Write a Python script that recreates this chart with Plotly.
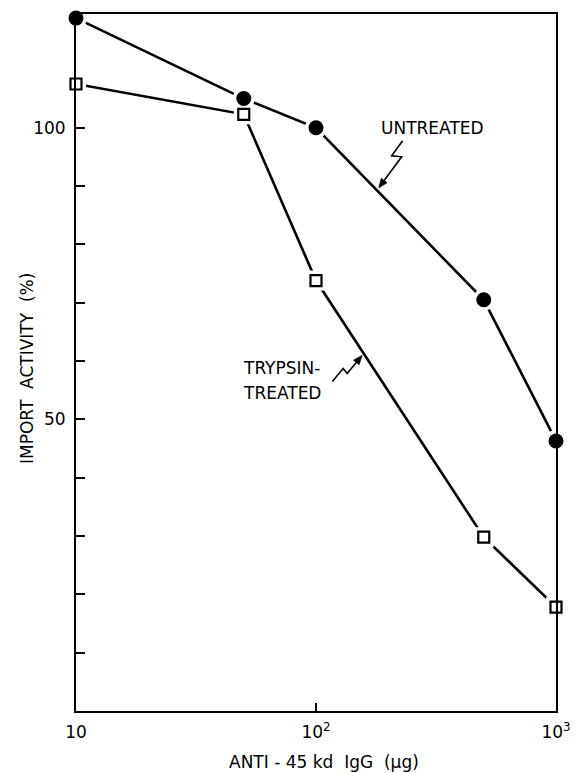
import math
import plotly.graph_objects as go

dose_ug = [10, 50, 100, 500, 1000]
untreated = [118.8, 105.0, 100.0, 70.5, 46.3]
trypsin_treated = [107.5, 102.3, 73.8, 29.8, 17.8]

y_tickvals = [50, 100]
y_ticktext = ["50", "100"]
y_minor_tickvals = [10, 20, 30, 40, 60, 70, 80, 90]
x_tickvals = [10, 100, 1000]
x_ticktext = ["10", "10<sup>2</sup>", "10<sup>3</sup>"]
x_title = "ANTI - 45 kd  IgG  (μg)"
y_title = "IMPORT  ACTIVITY  (%)"

W, H = 583, 773
L, R, T, B = 76, 561, 13, 711
FONT = "DejaVu Sans"


def px(x, y):
    return (x - L) / (R - L), (B - y) / (B - T)


fig = go.Figure()

for ys in (untreated, trypsin_treated):
    fig.add_trace(go.Scatter(
        x=dose_ug, y=ys, mode="lines",
        line=dict(color="black", width=2.6),
        hoverinfo="skip", showlegend=False, cliponaxis=False))
# white halos -> small gap between line and marker
for ys, sym, sz in [(untreated, "circle", 22), (trypsin_treated, "square", 20)]:
    fig.add_trace(go.Scatter(
        x=dose_ug, y=ys, mode="markers",
        marker=dict(symbol=sym, size=sz, color="white", line=dict(width=0)),
        hoverinfo="skip", showlegend=False, cliponaxis=False))

fig.add_trace(go.Scatter(
    x=dose_ug, y=untreated, mode="markers", name="UNTREATED",
    marker=dict(symbol="circle", size=15, color="black", line=dict(width=0)),
    showlegend=False, cliponaxis=False))
fig.add_trace(go.Scatter(
    x=dose_ug, y=trypsin_treated, mode="markers", name="TRYPSIN-TREATED",
    marker=dict(symbol="square", size=11, color="white",
                line=dict(color="black", width=2.2)),
    showlegend=False, cliponaxis=False))


def path(points, close=False):
    s = ""
    for i, (x, y) in enumerate(points):
        u, v = px(x, y)
        s += ("M" if i == 0 else "L") + f"{u:.4f},{v:.4f} "
    return s + ("Z" if close else "")


def zigzag_arrow(points, head_len=9.0, head_half=3.6):
    (x0, y0), (x1, y1) = points[-2], points[-1]
    d = math.hypot(x1 - x0, y1 - y0)
    ux, uy = (x1 - x0) / d, (y1 - y0) / d
    bx, by = x1 - head_len * ux, y1 - head_len * uy
    nx, ny = -uy, ux
    fig.add_shape(type="path", xref="paper", yref="paper",
                  path=path(points[:-1] + [(bx, by)]),
                  line=dict(color="black", width=1.6))
    fig.add_shape(type="path", xref="paper", yref="paper",
                  path=path([(x1, y1),
                             (bx + head_half * nx, by + head_half * ny),
                             (bx - head_half * nx, by - head_half * ny)],
                            close=True),
                  line=dict(color="black", width=0.8), fillcolor="black")


zigzag_arrow([(406, 140), (395, 155), (405, 156), (382, 187)])
zigzag_arrow([(335, 381), (346, 368), (350, 373), (365, 355)])

lab_font = dict(family=FONT, size=17, color="black")


def label(x, y, text, xanchor="center", angle=0):
    u, v = px(x, y)
    fig.add_annotation(x=u, y=v, xref="paper", yref="paper", text=text,
                       xanchor=xanchor, yanchor="middle", textangle=angle,
                       showarrow=False, font=lab_font)


label(436, 127, "UNTREATED")
label(243, 368, "TRYPSIN-", xanchor="left")
label(243, 393, "TREATED", xanchor="left")
label(327, 762, x_title)
label(27, 368, y_title, angle=-90)

fig.update_layout(
    width=W, height=H,
    margin=dict(l=L, r=W - R, t=T, b=H - B),
    paper_bgcolor="white", plot_bgcolor="white",
    font=dict(family=FONT, size=17, color="black"),
    xaxis=dict(
        type="log", range=[1, 3],
        tickvals=x_tickvals, ticktext=x_ticktext,
        ticks="inside", ticklen=8, tickwidth=1.6, tickcolor="black",
        ticklabelstandoff=5,
        showgrid=False, zeroline=False,
        showline=True, linecolor="black", linewidth=2, mirror=True,
        tickfont=dict(family=FONT, size=17),
    ),
    yaxis=dict(
        range=[0, 119.5],
        tickvals=y_tickvals, ticktext=y_ticktext,
        ticks="inside", ticklen=9, tickwidth=1.6, tickcolor="black",
        ticklabelstandoff=5,
        minor=dict(tickvals=y_minor_tickvals, ticks="inside", ticklen=9,
                   tickwidth=1.6, tickcolor="black", showgrid=False),
        showgrid=False, zeroline=False,
        showline=True, linecolor="black", linewidth=2, mirror=True,
        tickfont=dict(family=FONT, size=17),
    ),
)

fig.write_html("out.html",
               config={"displayModeBar": False},
               post_script="document.body.style.margin='0';"
                           "document.body.style.overflow='hidden';")
